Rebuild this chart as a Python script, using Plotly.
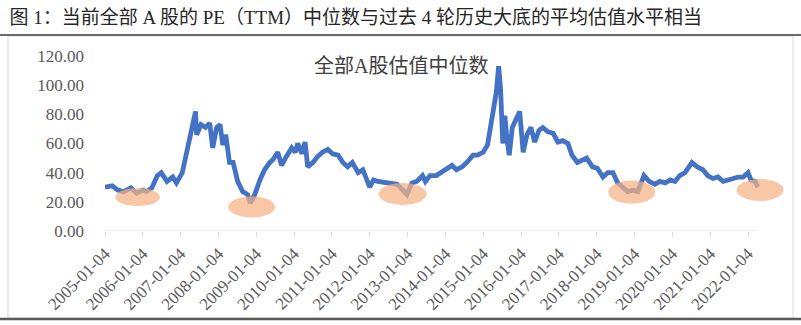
import plotly.graph_objects as go
import pandas as pd

# ---- data ----
dates = [
    "2005-01-04", "2005-03-15", "2005-05-08", "2005-07-01", "2005-09-12", "2005-11-06",
    "2006-01-04", "2006-02-08", "2006-04-01", "2006-05-25", "2006-07-01", "2006-08-25",
    "2006-10-20", "2006-11-25", "2007-01-20", "2007-03-05", "2007-04-12", "2007-05-01",
    "2007-05-28", "2007-06-08", "2007-07-20", "2007-09-01", "2007-10-12", "2007-11-10",
    "2007-12-18", "2008-01-20", "2008-02-15", "2008-03-15", "2008-04-20", "2008-05-25",
    "2008-07-08", "2008-08-25", "2008-10-12", "2008-11-08", "2008-12-20", "2009-02-08",
    "2009-03-25", "2009-05-15", "2009-06-15", "2009-07-30", "2009-09-05", "2009-10-20",
    "2009-12-12", "2010-01-15", "2010-02-08", "2010-03-20", "2010-04-20", "2010-05-15",
    "2010-07-05", "2010-08-18", "2010-10-05", "2010-11-25", "2011-01-10", "2011-03-05",
    "2011-04-20", "2011-06-05", "2011-07-20", "2011-09-15", "2011-10-30", "2012-01-04",
    "2012-02-10", "2012-03-22", "2012-06-01", "2012-08-05", "2012-09-25", "2012-11-18",
    "2012-12-28", "2013-02-15", "2013-04-01", "2013-05-01", "2013-05-28", "2013-06-25",
    "2013-08-08", "2013-10-08", "2013-11-25", "2014-01-15", "2014-03-08", "2014-04-20",
    "2014-06-15", "2014-07-30", "2014-09-28", "2014-11-10", "2015-01-04", "2015-02-15",
    "2015-03-28", "2015-04-20", "2015-05-10", "2015-06-02", "2015-06-20", "2015-07-12",
    "2015-08-01", "2015-08-20", "2015-09-12", "2015-10-12", "2015-11-25", "2015-12-22",
    "2016-01-25", "2016-03-01", "2016-04-08", "2016-05-15", "2016-06-25", "2016-08-01",
    "2016-09-20", "2016-11-10", "2016-12-25", "2017-02-10", "2017-04-01", "2017-05-10",
    "2017-07-01", "2017-08-20", "2017-09-28", "2017-11-25", "2018-01-10", "2018-03-05",
    "2018-04-20", "2018-06-10", "2018-07-25", "2018-09-12", "2018-10-30", "2018-12-20",
    "2019-02-05", "2019-04-05", "2019-05-25", "2019-07-20", "2019-09-05", "2019-10-28",
    "2019-12-15", "2020-01-30", "2020-03-15", "2020-05-05", "2020-06-20", "2020-07-12",
    "2020-08-30", "2020-10-25", "2020-12-10", "2021-01-30", "2021-03-20", "2021-05-08",
    "2021-06-25", "2021-08-12", "2021-10-01", "2021-11-18", "2022-01-04", "2022-02-01",
    "2022-03-15", "2022-04-08",
]
pe_median = [
    30, 31, 28, 27, 29.5, 26,
    28, 27, 29.5, 38, 40, 34,
    37, 33, 40, 54, 66, 71,
    82, 66, 73, 71, 74, 57,
    71, 73, 59, 66, 47, 47,
    34, 27, 25, 19, 25, 35,
    42, 47, 49, 54, 45, 51,
    57, 54, 60, 53, 61, 44,
    47, 51, 54, 56, 53, 52,
    47, 44, 47, 40, 42, 30,
    35, 34, 33, 32, 32, 28,
    25, 33, 34, 36, 38, 34,
    38, 38, 40, 42, 45, 42,
    44, 47, 52, 52, 54, 59,
    77, 82, 95, 113, 98, 60,
    79, 64, 52, 71, 79, 82,
    54, 66, 71, 61, 69, 71,
    68, 67, 61, 62, 60, 52,
    47, 49, 50, 44, 43, 37,
    40, 40, 33, 30, 27, 28,
    27, 38, 34, 32, 34, 33,
    35, 34, 38, 40, 44, 47,
    44, 42, 38, 36, 37, 34,
    35, 36, 37, 37, 40, 35,
    34, 30,
]
tick_dates = [f"{y}-01-04" for y in range(2005, 2023)]
y_ticks = [0, 20, 40, 60, 80, 100, 120]

# historical bottoms highlighted with ellipses (centre date, centre value)
bottom_dates = ["2005-11-15", "2008-11-20", "2012-11-17", "2018-12-08", "2022-04-30"]
bottom_values = [23.3, 16.5, 25.4, 26.7, 28.1]

title_text = "图 1：当前全部 A 股的 PE（TTM）中位数与过去 4 轮历史大底的平均估值水平相当"
series_label = "全部A股估值中位数"

# ---- styles ----
LINE_COLOR = "#4472C4"
ELL_COLOR = "rgba(244,177,131,0.72)"
half_w_days = [215, 227, 232, 227, 227]
half_h = [6.2, 7.2, 7.5, 7.9, 7.5]

fig = go.Figure()
fig.add_trace(go.Scatter(
    x=dates, y=pe_median, mode="lines",
    line=dict(color=LINE_COLOR, width=4.8),
    hoverinfo="skip", showlegend=False,
))

shapes = []
# x axis line drawn along the data span
shapes.append(dict(type="line", xref="x", yref="y", x0=dates[0], x1=dates[-1],
                   y0=0, y1=0, line=dict(color="#D9D9D9", width=1), layer="below"))
for d, v, hw, hh in zip(bottom_dates, bottom_values, half_w_days, half_h):
    c = pd.Timestamp(d)
    shapes.append(dict(type="circle", xref="x", yref="y",
                       x0=(c - pd.Timedelta(days=hw)).strftime("%Y-%m-%d"),
                       x1=(c + pd.Timedelta(days=hw)).strftime("%Y-%m-%d"),
                       y0=v - hh, y1=v + hh,
                       fillcolor=ELL_COLOR, line=dict(width=0), layer="above"))

# frame and rules (paper coords relative to plot area 105..785 x, 56..231 y)
def px_x(p):
    return (p - 105) / 680.0

def px_y(p):
    return (231 - p) / 175.0

shapes.append(dict(type="rect", xref="paper", yref="paper",
                   x0=px_x(8), x1=px_x(793), y0=px_y(318), y1=px_y(36),
                   line=dict(color="#D9D9D9", width=1), layer="below"))
shapes.append(dict(type="line", xref="paper", yref="paper",
                   x0=px_x(0), x1=px_x(801), y0=px_y(35), y1=px_y(35),
                   line=dict(color="#3A3A3A", width=1.5)))
shapes.append(dict(type="line", xref="paper", yref="paper",
                   x0=px_x(0), x1=px_x(801), y0=px_y(319), y1=px_y(319),
                   line=dict(color="#5A5A5A", width=2.5)))

fig.update_layout(
    width=801, height=325,
    margin=dict(l=105, r=16, t=56, b=94),
    paper_bgcolor="white", plot_bgcolor="white",
    shapes=shapes,
    title=dict(text=title_text, xref="container", yref="container",
               x=0.012, xanchor="left", y=1 - 17 / 325, yanchor="middle",
               font=dict(family="Liberation Serif, Noto Sans CJK SC", size=19, color="#262626")),
    annotations=[dict(text=series_label, xref="paper", yref="paper",
                      x=px_x(401), y=px_y(66), showarrow=False,
                      xanchor="center", yanchor="middle",
                      font=dict(family="Liberation Serif, Noto Sans CJK SC", size=20, color="#404040"))],
    xaxis=dict(type="date", range=["2005-01-04", "2022-12-27"],
               tickmode="array", tickvals=tick_dates, ticktext=tick_dates,
               tickangle=-45, ticks="outside", ticklen=5, tickcolor="#D9D9D9",
               showline=False, showgrid=False, zeroline=False,
               tickfont=dict(family="Liberation Serif", size=17, color="#595959")),
    yaxis=dict(range=[0, 120], tickmode="array", tickvals=y_ticks, tickformat=".2f",
               showline=False, showgrid=False, zeroline=False, ticks="",
               ticklabelstandoff=20,
               tickfont=dict(family="Liberation Serif", size=17, color="#595959")),
)

fig.write_html("out.html")
